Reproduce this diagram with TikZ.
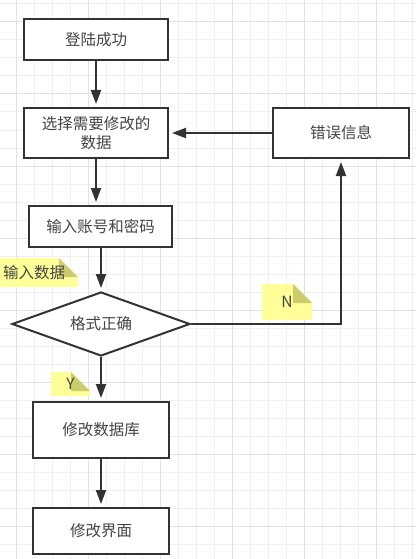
\documentclass[tikz,border=0pt]{standalone}
\usepackage{fontspec}
\setmainfont{Noto Sans CJK SC}
\usetikzlibrary{shapes.geometric, arrows.meta, positioning}

\definecolor{linegray}{RGB}{51,51,51}
\definecolor{textgray}{RGB}{68,68,68}
\definecolor{gridlight}{RGB}{240,240,240}
\definecolor{griddark}{RGB}{226,226,226}
\definecolor{noteyellow}{RGB}{255,255,153}
\definecolor{notefoldc}{RGB}{204,204,108}

\tikzset{
  flowbox/.style={draw=linegray, line width=2pt, fill=white, rectangle, inner sep=0pt,
    align=center, text=textgray, font=\fontsize{15.5}{19}\selectfont},
  decision/.style={flowbox, diamond, aspect=2.8},
  flowarrow/.style={draw=linegray, line width=2pt, -{Triangle[length=14pt,width=10pt]}, shorten >=3pt},
  notelabel/.style={text=textgray, inner sep=0pt, font=\fontsize{15.5}{19}\selectfont},
  notebody/.style={fill=noteyellow},
  notefold/.style={fill=notefoldc},
  gridthin/.style={draw=gridlight, line width=1pt},
  gridthick/.style={draw=griddark, line width=1pt},
}

\begin{document}
\begin{tikzpicture}[x=1pt, y=-1pt]
\useasboundingbox (0,0) rectangle (416,559);
\clip (0,0) rectangle (416,559);
\fill[white] (0,0) rectangle (416,559);

% grid
\foreach \gx in {16,34,...,412} \draw[gridthin] (\gx,0) -- (\gx,559);
\foreach \gy in {4,22,...,558} \draw[gridthin] (0,\gy) -- (416,\gy);
\foreach \gx in {16,88,...,412} \draw[gridthick] (\gx,0) -- (\gx,559);
\foreach \gy in {22,94,...,558} \draw[gridthick] (0,\gy) -- (416,\gy);

% steps
\node[flowbox, minimum width=144pt, minimum height=41pt] (login) at (96,39.5) {登陆成功};
\node[flowbox, minimum width=144pt, minimum height=50pt] (select) at (96,133) {选择需要修改的\\数据};
\node[flowbox, minimum width=136pt, minimum height=50pt] (errmsg) at (341,133) {错误信息};
\node[flowbox, minimum width=143pt, minimum height=41pt] (input) at (100.5,226.5) {输入账号和密码};
\node[decision, minimum width=178pt, minimum height=64pt] (check) at (101,324) {格式正确};
\node[flowbox, minimum width=136pt, minimum height=56pt] (moddb) at (101,430) {修改数据库};
\node[flowbox, minimum width=136pt, minimum height=46pt] (modui) at (101,531) {修改界面};

% connectors
\draw[flowarrow] (login) -- (select);
\draw[flowarrow] (errmsg) -- (select);
\draw[flowarrow] (select.south) -- (select.south |- input.north);
\draw[flowarrow] (input.south -| check.north) -- (check.north);
\draw[flowarrow] (check.east) -| (errmsg.south);
\draw[flowarrow] (check) -- (moddb);
\draw[flowarrow] (moddb) -- (modui);

% notes
\fill[notebody] (-10,258) -- (59,258) -- (78,277) -- (78,287) -- (-10,287) -- cycle;
\fill[notefold] (59,258) -- (59,277) -- (78,277) -- cycle;
\node[notelabel] (datanote) at (34,273) {输入数据};

\fill[notebody] (262,284) -- (293,284) -- (312,303) -- (312,320) -- (262,320) -- cycle;
\fill[notefold] (293,284) -- (293,303) -- (312,303) -- cycle;
\node[notelabel] (nonote) at (287,302) {N};

\fill[notebody] (51,372) -- (71,372) -- (90,391) -- (90,396) -- (51,396) -- cycle;
\fill[notefold] (71,372) -- (71,391) -- (90,391) -- cycle;
\node[notelabel] (yesnote) at (70.5,384) {Y};
\end{tikzpicture}
\end{document}
